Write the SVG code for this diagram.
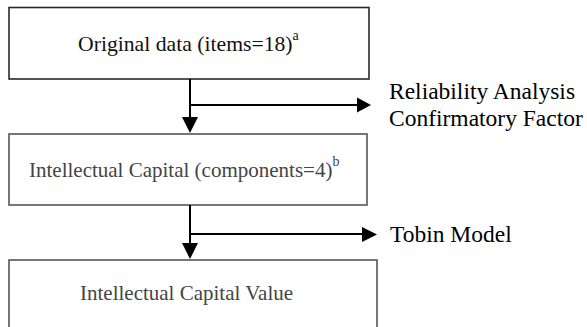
<svg xmlns="http://www.w3.org/2000/svg" width="587" height="327" viewBox="0 0 587 327">
  <defs>
    <style>
      .box { fill: #ffffff; stroke: #2a2a2a; stroke-width: 1.6; }
      .box.soft { stroke: #555555; }
      .wire { fill: none; stroke: #000000; stroke-width: 2; }
      .head { fill: #000000; stroke: none; }
      .t { font-family: "Liberation Serif", "Times New Roman", serif; font-size: 21px; fill: #111111; }
      .t.big { font-size: 21.7px; }
      .t.grey { fill: #444444; }
      .sup { font-size: 14px; }
      .side { font-family: "Liberation Serif", "Times New Roman", serif; font-size: 23.5px; fill: #000000; }
    </style>
  </defs>
  <rect width="587" height="327" fill="#ffffff"/>

  <g id="node-original">
    <rect class="box" x="9" y="7.5" width="360" height="71.5"/>
    <text class="t big" x="78" y="51">Original data (items=18)<tspan class="sup" dy="-11">a</tspan></text>
  </g>

  <g id="node-components">
    <rect class="box soft" x="9" y="134" width="358" height="71"/>
    <text class="t grey" x="29" y="177">Intellectual Capital (components=4)<tspan class="sup" dy="-11">b</tspan></text>
  </g>

  <g id="node-value">
    <rect class="box soft" x="9" y="260" width="368" height="80"/>
    <text class="t grey" x="80" y="300">Intellectual Capital Value</text>
  </g>

  <g id="node-reliability">
    <text class="side" x="389" y="99">Reliability Analysis</text>
    <text class="side" x="389" y="126">Confirmatory Factor</text>
  </g>

  <g id="node-tobin">
    <text class="side" x="390" y="242">Tobin Model</text>
  </g>

  <g id="connectors">
    <line class="wire" x1="190" y1="79" x2="190" y2="118"/>
    <polygon class="head" points="182,117 198,117 190,133"/>
    <line class="wire" x1="190" y1="105" x2="358" y2="105"/>
    <polygon class="head" points="357,97.5 357,112.5 371,105"/>

    <line class="wire" x1="190" y1="205" x2="190" y2="244"/>
    <polygon class="head" points="182,243 198,243 190,259"/>
    <line class="wire" x1="190" y1="234" x2="363" y2="234"/>
    <polygon class="head" points="362,227 362,242 377,234.5"/>
  </g>
</svg>
